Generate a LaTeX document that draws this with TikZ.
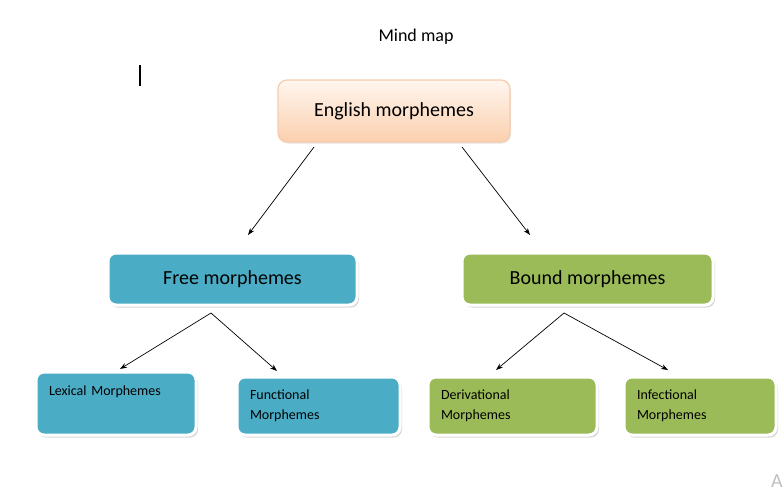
\documentclass[tikz,border=0pt]{standalone}
\usepackage{fontspec}
\setmainfont{Carlito}
\usetikzlibrary{arrows.meta,shadows}
\definecolor{freeblue}{HTML}{4BACC6}
\definecolor{boundgreen}{HTML}{9BBB59}
\definecolor{peachtop}{HTML}{FFF6EF}
\definecolor{peachbot}{HTML}{FBD0AE}
\definecolor{peachline}{HTML}{F8CBAD}
\begin{document}
\begin{tikzpicture}[x=1pt,y=-1pt,
	rootbox/.style={rounded corners=9pt, draw=peachline, line width=1.2pt, top color=peachtop, bottom color=peachbot,
		minimum width=232pt, minimum height=62pt, font=\fontsize{20}{24}\selectfont,
		drop shadow={shadow xshift=1pt, shadow yshift=-1.5pt, fill=black!20}},
	midbox/.style={rounded corners=8pt, draw=white, line width=3pt, fill=#1,
		minimum width=249pt, minimum height=52pt, font=\fontsize{20}{24}\selectfont,
		drop shadow={shadow xshift=2pt, shadow yshift=-2.5pt, fill=black!30}},
	leafbox/.style={rounded corners=8pt, draw=white, line width=3pt, inner xsep=13pt,
		text width=#1, align=left, font=\fontsize{14}{20}\selectfont,
		drop shadow={shadow xshift=2pt, shadow yshift=-2.5pt, fill=black!30}},
	link/.style={-{Stealth[length=7pt,width=5pt]}, line width=0.7pt}]
	\useasboundingbox (0,0) rectangle (783,496);

	\node[font=\fontsize{18}{22}\selectfont] (title) at (416,37) {Mind map};
	\draw[line width=1.6pt] (140,65) -- (140,86);
	\node[font=\fontsize{20}{24}\selectfont, text=black!25] (corner) at (777,481) {A};

	\node[rootbox] (english) at (394,111) {English morphemes};

	\node[midbox=freeblue] (free) at (232.5,279) {Free morphemes};
	\node[midbox=boundgreen, minimum width=251pt] (bound) at (587.5,279) {Bound morphemes};

	\node[leafbox=134pt, fill=freeblue, minimum height=63pt] (lexical) at (116,403.5) {Lexical Morphemes\\\strut};
	\node[leafbox=137pt, fill=freeblue, minimum height=58pt] (functional) at (318.5,406) {Functional\\Morphemes};
	\node[leafbox=143pt, fill=boundgreen, minimum height=58pt] (derivational) at (512.5,406) {Derivational\\Morphemes};
	\node[leafbox=126pt, fill=boundgreen, minimum height=58pt] (infectional) at (700,406) {Infectional\\Morphemes};

	\coordinate (e1) at (314,147);
	\coordinate (e2) at (462,147);
	\coordinate (f0) at (211,313);
	\coordinate (b0) at (564,313);

	\draw[link] (e1) -- (248,235) coordinate (freetip);
	\draw[link] (e2) -- (530,235) coordinate (boundtip);
	\draw[link] (f0) -- (120,369) coordinate (lexicaltip);
	\draw[link] (f0) -- (277,371) coordinate (functionaltip);
	\draw[link] (b0) -- (496,370) coordinate (derivationaltip);
	\draw[link] (b0) -- (668,370) coordinate (infectionaltip);
\end{tikzpicture}
\end{document}
